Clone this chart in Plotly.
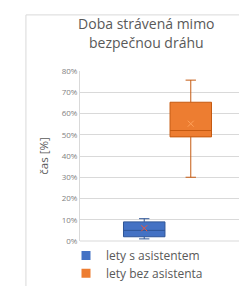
import plotly.graph_objects as go

series = ["lety s asistentem", "lety bez asistenta"]
q1 = [0.02, 0.49]
median = [0.05, 0.52]
q3 = [0.09, 0.653]
lower = [0.01, 0.30]
upper = [0.105, 0.757]
mean = [0.06, 0.552]
fills = ["#4472C4", "#ED7D31"]
lines = ["#2F5597", "#C55A11"]
xpos = [-0.133, 0.133]
y_ticks = [0, 0.1, 0.2, 0.3, 0.4, 0.5, 0.6, 0.7, 0.8]
legend_names = ["legend", "legend2"]
legend_y = [0.0, -0.105]

fig = go.Figure()
for i in range(2):
    fig.add_trace(go.Box(
        x=[xpos[i]], q1=[q1[i]], median=[median[i]], q3=[q3[i]],
        lowerfence=[lower[i]], upperfence=[upper[i]],
        width=0.237, whiskerwidth=0.25,
        fillcolor=fills[i], line=dict(color=lines[i], width=1),
        showlegend=False, hoverinfo="skip"))
    fig.add_trace(go.Scatter(
        x=[xpos[i]], y=[mean[i]], mode="markers",
        marker=dict(symbol="x-thin-open", size=6, line=dict(color=lines[i], width=1)),
        showlegend=False, hoverinfo="skip"))
    fig.add_trace(go.Scatter(
        x=[None], y=[None], mode="markers", name=series[i], legend=legend_names[i],
        marker=dict(symbol="square", size=9, color=fills[i])))

leg = dict(x=-0.08, xanchor="left", yanchor="top", orientation="v", itemwidth=30,
           font=dict(size=12, color="#595959"), bgcolor="rgba(0,0,0,0)")

fig.update_layout(
    width=247, height=286,
    margin=dict(l=72, r=0, t=63, b=53),
    paper_bgcolor="white", plot_bgcolor="white",
    font=dict(family="Open Sans", color="#595959"),
    title=dict(text="Doba strávená mimo<br>bezpečnou dráhu", x=0.56, xanchor="center",
               y=0.925, yanchor="top", font=dict(size=14, color="#595959")),
    xaxis=dict(range=[-0.5, 0.5], showticklabels=False, showgrid=False, zeroline=False,
               showline=False, fixedrange=True),
    yaxis=dict(range=[0, 0.8], tickvals=y_ticks, tickformat=".0%",
               tickfont=dict(size=8, color="#7f7f7f"), gridcolor="#d9d9d9", gridwidth=1,
               zeroline=False, showline=True, linecolor="#d9d9d9", ticks="",
               title=dict(text="čas [%]", font=dict(size=11.5, color="#595959"), standoff=10)),
    legend=dict(leg, y=legend_y[0]),
    legend2=dict(leg, y=legend_y[1]),
    shapes=[dict(type="line", xref="paper", yref="paper", x0=0, x1=1.05, y0=0, y1=0,
                 line=dict(color="#d9d9d9", width=1)),
            dict(type="rect", xref="paper", yref="paper", x0=-0.309, x1=1.2, y0=-0.5, y1=1.33,
                 line=dict(color="#d9d9d9", width=1))],
)
fig.write_html("out.html")
